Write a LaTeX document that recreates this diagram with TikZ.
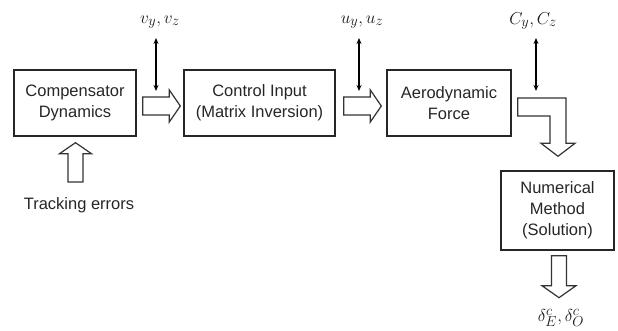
\documentclass[tikz,border=0pt]{standalone}
\usepackage{fontspec}
\setmainfont{Liberation Sans}
\usetikzlibrary{calc,arrows.meta}
\newcommand\rblockarrow[2]{\draw[barrow] let \p1=(#1), \p2=(#2) in
  (\x1,\y1+9pt) -- (\x2-11pt,\y1+9pt) -- (\x2-11pt,\y1+16pt) -- (\x2,\y1)
  -- (\x2-11pt,\y1-16pt) -- (\x2-11pt,\y1-9pt) -- (\x1,\y1-9pt) -- cycle;}
\begin{document}
\begin{tikzpicture}[x=1pt,y=-1pt,
  box/.style={draw=black!85, line width=1.4pt, align=center, inner sep=0pt,
    font=\fontsize{16.5}{21}\selectfont, text=black!85},
  barrow/.style={draw=black!80, line width=1.2pt, fill=white, line join=miter},
  dbl/.style={draw=black, line width=1.2pt, {Stealth[length=6pt,width=5pt]}-{Stealth[length=6pt,width=5pt]}},
  lab/.style={font=\fontsize{16.5}{20}\selectfont, text=black!85, inner sep=0pt},
  mlab/.style={font=\fontsize{19}{22}\selectfont, text=black!90, inner sep=0pt}]
\useasboundingbox (0,0) rectangle (618,331);
\node[box, minimum width=122pt, minimum height=66pt] (comp) at (75,103) {Compensator\\Dynamics};
\node[box, minimum width=151pt, minimum height=66pt] (ctrl) at (259.5,103) {Control Input\\(Matrix Inversion)};
\node[box, minimum width=124pt, minimum height=66pt] (aero) at (449,103) {Aerodynamic\\Force};
\node[box, minimum width=113pt, minimum height=79pt] (num) at (557.5,210.5) {Numerical\\Method\\(Solution)};
\node[lab] (track) at (79,205) {Tracking errors};
\node[mlab] (vlab) at (160,22) {$v_y,v_z$};
\node[mlab] (ulab) at (362,22) {$u_y,u_z$};
\node[mlab] (clab) at (533,21) {$C_y,C_z$};
\node[mlab] (dlab) at (561,318) {$\delta_E^c,\delta_O^c$};
% double arrows
\coordinate (vtop) at (156,38); \coordinate (vbot) at (156,91);
\coordinate (utop) at (359,38); \coordinate (ubot) at (359,91);
\coordinate (ctop) at (536,38); \coordinate (cbot) at (536,91);
\draw[dbl] (vtop) -- (vbot);
\draw[dbl] (utop) -- (ubot);
\draw[dbl] (ctop) -- (cbot);
% horizontal block arrows
\rblockarrow{$(comp.east)+(6,3)$}{$(ctrl.west)+(-3,3)$}
\rblockarrow{$(ctrl.east)+(8,3)$}{$(aero.west)+(-5,3)$}
% bent arrow
\coordinate (bstart) at ($(aero.east)+(6,4)$);
\coordinate (btip) at ($(num.north)+(0.5,-14)$);
\draw[barrow] let \p1=(bstart), \p2=(btip) in
  (\x1,\y1+9pt) -- (\x2+8pt,\y1+9pt) -- (\x2+8pt,\y2+13pt) -- (\x2+17pt,\y2+13pt)
  -- (\x2,\y2) -- (\x2-17pt,\y2+13pt) -- (\x2-8pt,\y2+13pt) -- (\x2-8pt,\y1-9pt)
  -- (\x1,\y1-9pt) -- cycle;
% down arrow from numerical method
\coordinate (dstart) at ($(num.south)+(1.5,5)$);
\coordinate (dtip) at ($(num.south)+(1.5,47)$);
\draw[barrow] let \p1=(dstart), \p2=(dtip) in
  (\x1-7.5pt,\y1) -- (\x1+7.5pt,\y1) -- (\x1+7.5pt,\y2+12pt) -- (\x1+17pt,\y2+12pt)
  -- (\x1,\y2) -- (\x1-17pt,\y2+12pt) -- (\x1-7.5pt,\y2+12pt) -- cycle;
% up arrow into compensator
\coordinate (ustart) at (75.5,182);
\coordinate (utip) at ($(comp.south)+(0.5,6)$);
\draw[barrow] let \p1=(ustart), \p2=(utip) in
  (\x1-7.5pt,\y1) -- (\x1+7.5pt,\y1) -- (\x1+7.5pt,\y2-11pt) -- (\x1+16pt,\y2-11pt)
  -- (\x1,\y2) -- (\x1-16pt,\y2-11pt) -- (\x1-7.5pt,\y2-11pt) -- cycle;
\end{tikzpicture}
\end{document}
